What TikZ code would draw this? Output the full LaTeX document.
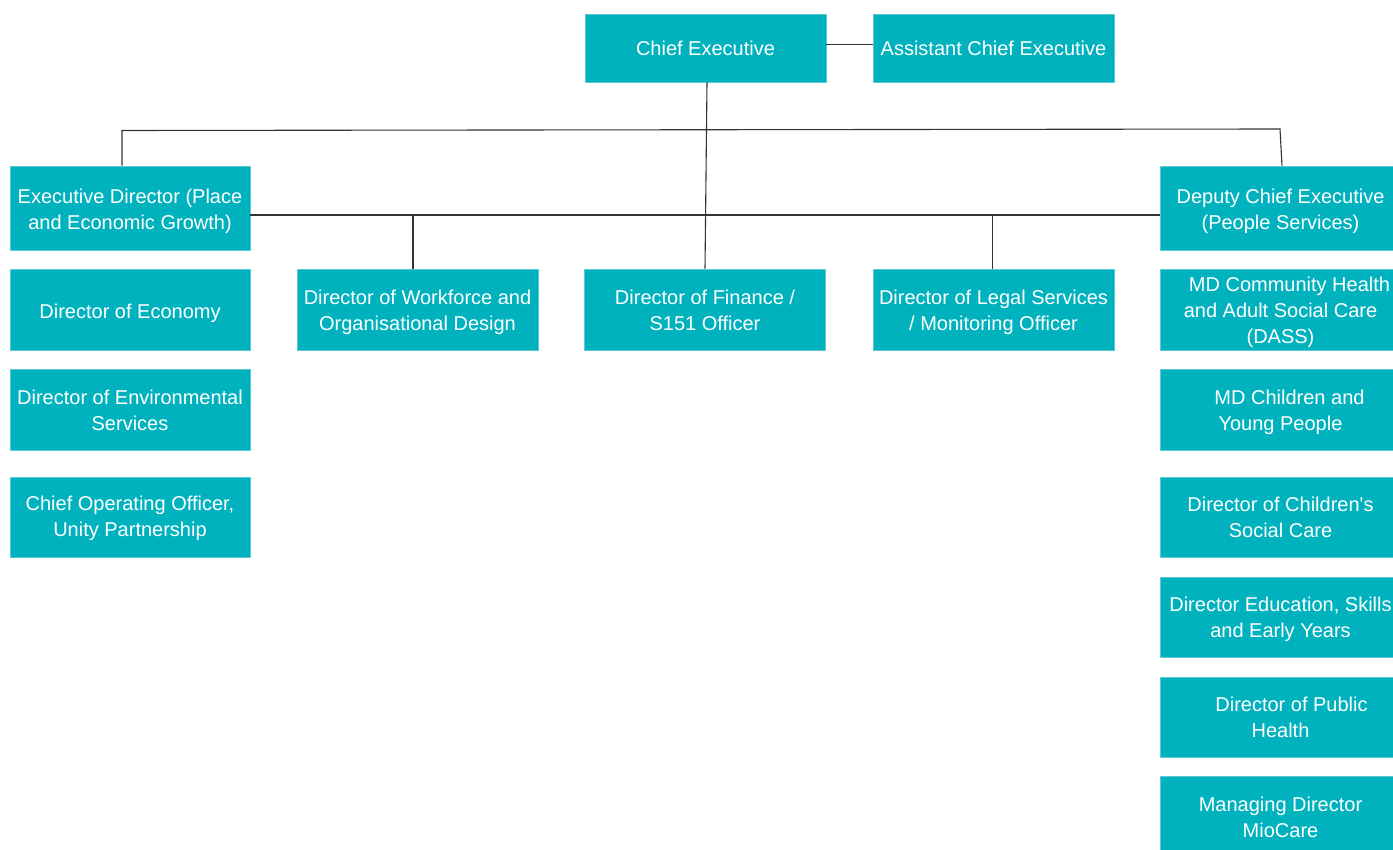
\documentclass[tikz,border=0pt]{standalone}
\usepackage{fontspec}
\setmainfont{Liberation Sans}
\definecolor{teal1}{HTML}{00B2BE}
\definecolor{tealedge}{HTML}{5CCAD2}
\definecolor{linec}{HTML}{333333}
\begin{document}
\begin{tikzpicture}[x=1pt,y=-1pt,
  box/.style={rectangle, fill=teal1, draw=tealedge, line width=0.6pt,
    inner sep=0pt, minimum width=241, minimum height=81},
  lbl/.style={text=white, font=\fontsize{20}{26}\selectfont, align=center, inner sep=0pt},
  conn/.style={draw=linec, line width=1.1pt}]
\useasboundingbox (0,0) rectangle (1393,850);
% boxes
\node[box, minimum height=68] (ce) at (705.5,48) {};
\node[box, minimum height=68] (ace) at (993.5,48) {};
\node[box, minimum width=240, minimum height=84] (exec) at (130,208) {};
\node[box, minimum height=84] (dep) at (1280.5,208) {};
\node[box, minimum width=240] (econ) at (130,309.5) {};
\node[box] (work) at (417.5,309.5) {};
\node[box] (fin) at (705,309.5) {};
\node[box] (legal) at (993.5,309.5) {};
\node[box] (mdch) at (1280.5,309.5) {};
\node[box, minimum width=240] (env) at (130,409.5) {};
\node[box, minimum width=240, minimum height=80] (coo) at (130,517) {};
\node[box] (mdcyp) at (1280.5,409.5) {};
\node[box, minimum height=80] (csc) at (1280.5,517) {};
\node[box, minimum height=80] (edu) at (1280.5,617) {};
\node[box, minimum height=80] (ph) at (1280.5,717) {};
\node[box] (mio) at (1280.5,816.5) {};
% texts
\node[lbl] (t-ce) at ([yshift=-0.5pt]ce.center) {Chief Executive};
\node[lbl] (t-ace) at ([yshift=-0.5pt]ace.center) {Assistant Chief Executive};
\node[lbl] (t-exec) at ([yshift=-3pt]exec.center) {Executive Director (Place\\and Economic Growth)};
\node[lbl] (t-dep) at ([yshift=-3pt]dep.center) {Deputy Chief Executive\\(People Services)};
\node[lbl] (t-econ) at ([yshift=-4pt]econ.center) {Director of Economy};
\node[lbl] (t-work) at ([yshift=-3pt]work.center) {Director of Workforce and\\Organisational Design};
\node[lbl] (t-fin) at ([yshift=-1pt]fin.center) {Director of Finance /\\S151 Officer};
\node[lbl] (t-legal) at ([yshift=-3pt]legal.center) {Director of Legal Services\\/ Monitoring Officer};
\node[lbl] (t-mdch) at ([yshift=-3pt]mdch.center) {\hspace*{18pt}MD Community Health\\and Adult Social Care\\(DASS)};
\node[lbl] (t-env) at ([yshift=-1pt]env.center) {Director of Environmental\\Services};
\node[lbl] (t-coo) at ([yshift=-1pt]coo.center) {Chief Operating Officer,\\Unity Partnership};
\node[lbl] (t-mdcyp) at ([yshift=-2.5pt]mdcyp.center) {\hspace*{18pt}MD Children and\\Young People};
\node[lbl] (t-csc) at (csc.center) {Director of Children\textquotesingle s\\Social Care};
\node[lbl] (t-edu) at ([yshift=-2pt]edu.center) {Director Education, Skills\\and Early Years};
\node[lbl] (t-ph) at (ph.center) {\hspace*{22pt}Director of Public\\Health};
\node[lbl] (t-mio) at ([yshift=-1pt]mio.center) {Managing Director\\MioCare};
% connectors
\coordinate (tl) at (122,130.5);
\coordinate (tr) at (1280,129);
\draw[conn] ([yshift=3.5pt]ce.east) -- ([yshift=3.5pt]ace.west);
\draw[conn] ([xshift=1.5pt]ce.south) -- (fin.north);
\draw[conn] ([xshift=-8pt]exec.north) -- (tl) -- (tr) -- ([xshift=1.5pt]dep.north);
\draw[conn] ([yshift=-7pt]exec.east) -- ([yshift=-7pt]dep.west);
\draw[conn] ([xshift=-4.5pt]work.north) -- ([xshift=-4.5pt,yshift=-7pt]work.north |- exec.east);
\draw[conn] ([xshift=-1pt]legal.north) -- ([xshift=-1pt,yshift=-7pt]legal.north |- exec.east);
\end{tikzpicture}
\end{document}
